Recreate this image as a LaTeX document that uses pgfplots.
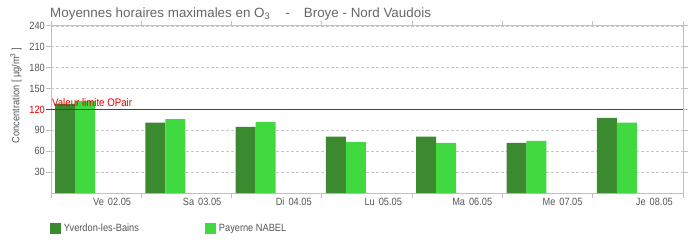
\documentclass[border=0pt]{standalone}
\usepackage{fontspec}
\setmainfont{Liberation Sans}[FakeStretch=0.88]
\newfontfamily\titlefont{Liberation Sans}
\usepackage{pgfplots}
\pgfplotsset{compat=1.18}
\definecolor{darkg}{HTML}{3C8A30}
\definecolor{lightg}{HTML}{40DA40}
\definecolor{axisgray}{HTML}{C0C0C0}
\definecolor{gridgray}{HTML}{C8C8C8}
\definecolor{txtgray}{HTML}{555555}
\definecolor{titlegray}{HTML}{666666}
\definecolor{limred}{HTML}{E80000}
\begin{document}
\begin{tikzpicture}
\path[use as bounding box] (0,0) rectangle (700bp,250bp);
\begin{axis}[
  at={(51bp,57bp)}, anchor=south west,
  scale only axis, width=632bp, height=167bp,
  xmin=0, xmax=7, ymin=0, ymax=240,
  axis line style={draw=axisgray, line width=1bp},
  tick align=outside,
  major tick length=5bp,
  tick style={draw=axisgray, line width=1bp},
  xtick={0,1,2,3,4,5,6,7},
  xticklabels={,Ve\hspace{4bp}02.05,Sa\hspace{4bp}03.05,Di\hspace{4bp}04.05,Lu\hspace{4bp}05.05,Ma\hspace{4bp}06.05,Me\hspace{4bp}07.05,Je\hspace{4bp}08.05},
  xticklabel style={anchor=north east, xshift=-9bp, yshift=1bp, inner sep=1bp, text=txtgray, font=\fontsize{10.5bp}{12bp}\selectfont},
  ytick={30,60,90,120,150,180,210,240},
  yticklabels={30,60,90,\textcolor{limred}{120},150,180,210,240},
  yticklabel style={inner sep=1bp, text=txtgray, font=\fontsize{10.5bp}{12bp}\selectfont},
  ymajorgrids,
  major grid style={draw=gridgray, dash pattern=on 3bp off 2bp, line width=0.8bp},
  ylabel={Concentration [ µg/m\textsuperscript{3} ]},
  every axis y label/.style={at={(axis description cs:0,0.584)}, xshift=-35bp, rotate=90, anchor=center, text=txtgray, font=\fontsize{10.5bp}{12bp}\selectfont},
  title={\titlefont Moyennes horaires maximales en O\textsubscript{3}\hspace{15bp}-\hspace{14bp}Broye - Nord Vaudois},
  every axis title/.style={at={(axis description cs:0,1)}, anchor=base west, yshift=8.4bp, xshift=-1bp, inner sep=0pt, text=titlegray, font=\fontsize{13.4bp}{15bp}\selectfont},
  legend columns=2,
  legend style={draw=none, fill=none, inner sep=0pt, outer sep=0pt, at={(axis description cs:-0.0016,-0.2126)}, anchor=west, font=\fontsize{10.5bp}{12bp}\selectfont, text=txtgray, nodes={inner sep=0pt}, /tikz/every odd column/.append style={column sep=3bp}, /tikz/every even column/.append style={column sep=66bp}},
  legend image code/.code={\fill[#1] (0bp,-5.5bp) rectangle (11bp,5.5bp);},
  clip=false,
]
\addplot[ybar, bar shift=0pt, bar width=0.2215, fill=darkg, draw=none] coordinates {
  (0.156,128) (1.156,101) (2.156,95) (3.156,81) (4.156,81) (5.156,72) (6.156,108)};
\addlegendentry{Yverdon-les-Bains}
\addplot[ybar, bar shift=0pt, bar width=0.2215, fill=lightg, draw=none] coordinates {
  (0.377,132) (1.377,106) (2.377,102) (3.377,73) (4.377,72) (5.377,75) (6.377,101)};
\addlegendentry{Payerne NABEL}
\addplot[fill=limred, draw=none, no markers, forget plot] coordinates {(-0.055,119.2) (7,119.2) (7,120.8) (-0.055,120.8)} -- cycle;
\node[anchor=base west, text=limred, inner sep=0pt, font=\fontsize{11bp}{13bp}\selectfont] at (axis cs:0.01,120) [yshift=2.5bp] {Valeur limite OPair};
\end{axis}
\end{tikzpicture}
\end{document}
